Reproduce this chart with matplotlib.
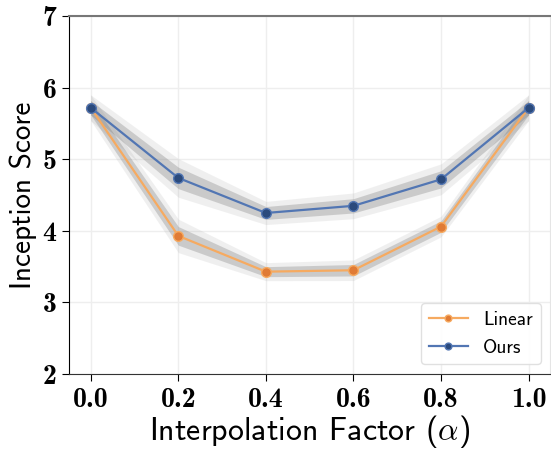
import numpy as np
import matplotlib
matplotlib.use('Agg')
import matplotlib.pyplot as plt

plt.rcParams['mathtext.fontset'] = 'cm'
plt.rcParams['axes.unicode_minus'] = False

alphas = [0.0, 0.2, 0.4, 0.6, 0.8, 1.0]
linear_mean = [5.72, 3.93, 3.43, 3.45, 4.06, 5.72]
linear_std = [0.10, 0.13, 0.07, 0.08, 0.08, 0.10]
ours_mean = [5.72, 4.74, 4.25, 4.35, 4.72, 5.72]
ours_std = [0.10, 0.15, 0.09, 0.10, 0.12, 0.10]
yticks = [2, 3, 4, 5, 6, 7]

x = np.array(alphas)
fig, ax = plt.subplots(figsize=(5.51, 4.49), dpi=100)
fig.subplots_adjust(left=0.125, right=0.999, top=0.964, bottom=0.167)

series = [
    ('Linear', linear_mean, linear_std, '#f6aa60', '#e07b35'),
    ('Ours', ours_mean, ours_std, '#5276b3', '#2b4a7c'),
]
for name, m, s, lc, mc in series:
    m = np.array(m)
    s = np.array(s)
    ax.fill_between(x, m - 1.8 * s, m + 1.8 * s, color='#999999', alpha=0.15, lw=0, zorder=1)
    ax.fill_between(x, m - s, m + s, color='#777777', alpha=0.3, lw=0, zorder=1)
    ax.plot(x, m, color=lc, lw=1.6, marker='o', ms=7, markerfacecolor=mc,
            markeredgecolor=lc, markeredgewidth=1, label=name, zorder=3)

ax.set_xlim(-0.05, 1.05)
ax.set_ylim(2, 7)
ax.set_xticks(alphas)
ax.set_xticklabels(['%.1f' % a for a in alphas], fontfamily='cmb10', fontsize=20)
ax.set_yticks(yticks)
ax.set_yticklabels(['%d' % v for v in yticks], fontfamily='cmb10', fontsize=20)
ax.tick_params(length=5, width=0.8)
ax.tick_params(axis='x', pad=4)
ax.tick_params(axis='y', pad=4)
ax.grid(True, color='#eeeeee', lw=1)
ax.set_axisbelow(True)
ax.spines['left'].set_color('black')
ax.spines['bottom'].set_color('#333333')
ax.spines['top'].set_color('#777777')
ax.spines['top'].set_linewidth(1.5)
ax.spines['right'].set_color('#e5e5e5')

ax.set_xlabel(r'Interpolation Factor ($\alpha$)', fontsize=23, fontfamily='cmss10', labelpad=0)
ax.set_ylabel('Inception Score', fontsize=21, fontfamily='cmss10', labelpad=4)

leg = ax.legend(loc='lower right', prop={'family': 'cmss10', 'size': 14},
                fancybox=True, framealpha=0.9, edgecolor='#dddddd',
                markerscale=0.7, borderaxespad=0.5)

fig.savefig('out.png', dpi=100)
